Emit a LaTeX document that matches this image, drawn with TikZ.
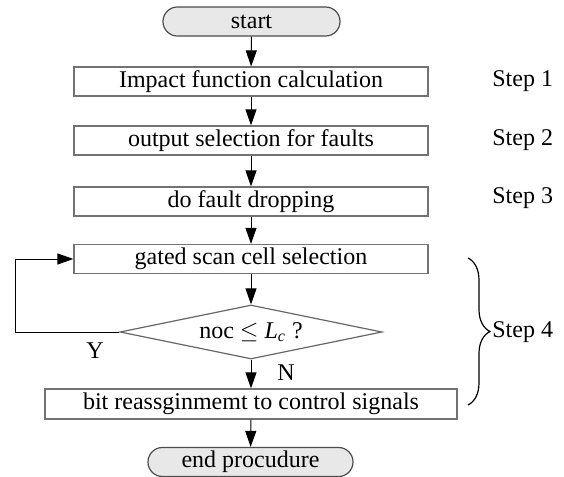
\documentclass[tikz,border=0pt]{standalone}
\usepackage{fontspec}
\setmainfont{Liberation Serif}
\usepackage{tikz}
\usetikzlibrary{positioning, shapes.geometric, arrows.meta, decorations.pathreplacing}

\tikzset{
	stagebox/.style	= {draw=black!55, line width=.6pt, rectangle, minimum width=177pt, minimum height=14.5pt, inner sep=0pt},
	terminal/.style	= {draw=black!70, line width=.6pt, fill=black!9, rectangle, rounded corners=7.2pt, minimum height=14.5pt, inner sep=0pt},
	test/.style		= {draw=black!60, line width=.6pt, diamond, shape aspect=4.8, minimum width=131pt, minimum height=27pt, inner sep=0pt},
	flow/.style		= {-{Triangle[length=8pt, width=5.5pt]}, line width=.5pt, black},
}

\begin{document}
\begin{tikzpicture}[x=.5pt, y=-.5pt, font=\fontsize{12}{14}\selectfont]
			\useasboundingbox	(0, 0) rectangle (564, 477);

			% main chain
			\node	(start)		at	(251.5, 21.5)	[terminal, minimum width=88.5pt]	{start};
			\node	(impact)	at	(251, 81.5)		[stagebox]	{Impact function calculation};
			\node	(outsel)	at	(251, 140.5)	[stagebox]	{output selection for faults};
			\node	(drop)		at	(251, 201.5)	[stagebox]	{do fault dropping};
			\node	(gated)		at	(251, 259)		[stagebox]	{gated scan cell selection};
			\node	(check)		at	(251, 332)		[test]		{noc $\leq$ \textit{L}\textsubscript{\textit{c}} ?};
			\node	(reassign)	at	(251, 404)		[stagebox, minimum width=206pt, minimum height=15pt]	{bit reassginmemt to control signals};
			\node	(finish)	at	(250.5, 462)	[terminal, minimum width=102.5pt]	{end procudure};

			\draw	[flow]	(start)		--	(impact);
			\draw	[flow]	(impact)	--	(outsel);
			\draw	[flow]	(outsel)	--	(drop);
			\draw	[flow]	(drop)		--	(gated);
			\draw	[flow]	(gated)		--	(check);
			\draw	[flow]	(check)		--	(reassign);
			\draw	[flow]	(reassign)	--	(finish);

			% loop back while the check holds
			\coordinate	(back)	at	(15, 332);
			\draw	[flow]	(check.west)	--	(back)	|-	(gated.west);
			\node	(yes)	at	(95, 351)	{Y};
			\node	(no)	at	(286, 373)	{N};

			% step labels
			\node	(s1)	at	(492, 81)	[right, inner sep=0pt]	{Step 1};
			\node	(s2)	at	(492, 140)	[right, inner sep=0pt]	{Step 2};
			\node	(s3)	at	(492, 198)	[right, inner sep=0pt]	{Step 3};

			\coordinate	(bt)	at	(468, 258);
			\coordinate	(bb)	at	(468, 405);
			\draw	[decorate, decoration={brace, amplitude=11pt}, line width=.6pt]	(bt) -- (bb);
			\node	(s4)	at	(492, 332)	[right, inner sep=0pt]	{Step 4};
		\end{tikzpicture}
\end{document}
